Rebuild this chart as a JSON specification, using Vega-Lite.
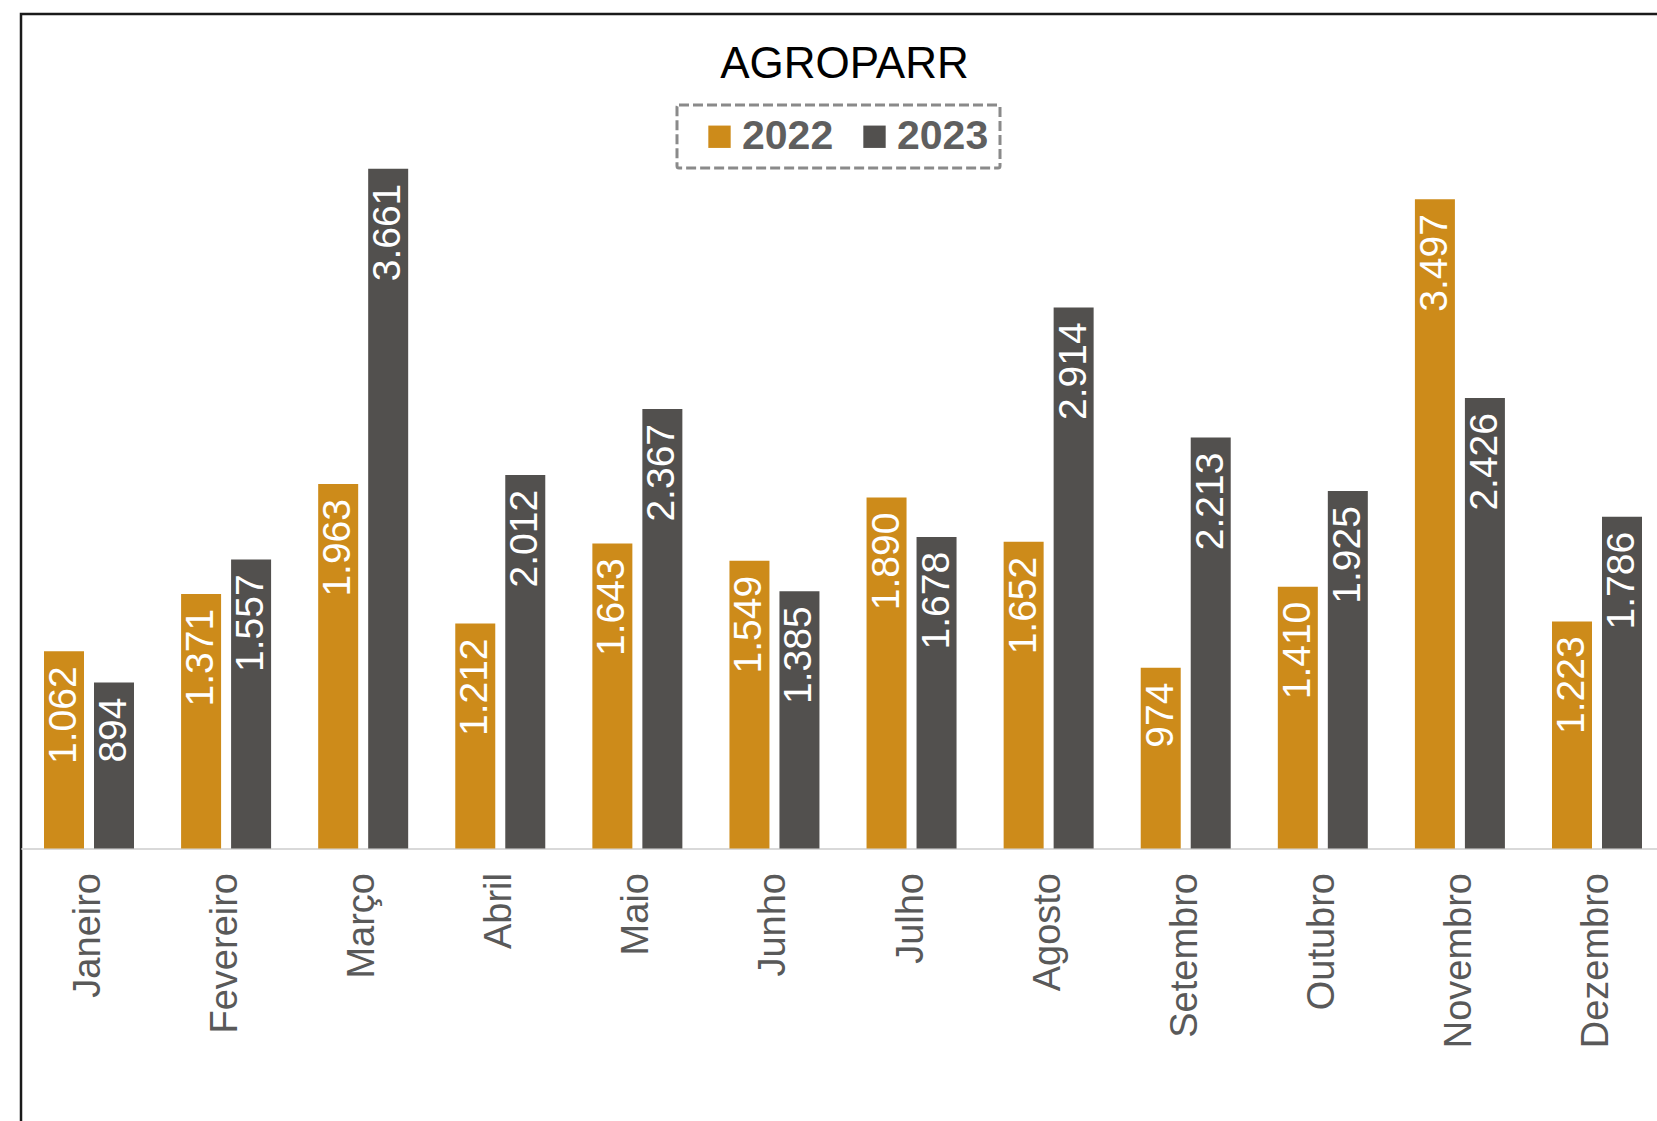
{
  "$schema": "https://vega.github.io/schema/vega-lite/v6.json",
  "width": 1650,
  "height": 1120,
  "autosize": {"type": "none"},
  "padding": {"left": 21, "top": 14, "right": 0, "bottom": 0},
  "background": "white",
  "config": {
    "locale": {"number": {"decimal": ",", "thousands": ".", "grouping": [3], "currency": ["R$", ""]}},
    "view": {"stroke": "#1A1A1A", "strokeWidth": 2.5},
    "font": "Liberation Sans"
  },
  "title": {
    "text": "AGROPARR",
    "fontSize": 44,
    "fontWeight": "normal",
    "font": "Liberation Sans",
    "color": "#000000",
    "anchor": "middle",
    "frame": "group",
    "dx": -1.5,
    "baseline": "alphabetic",
    "offset": -108
  },
  "data": {
    "values": [
      {"mes": "Janeiro", "ano": "2022", "valor": 1062},
      {"mes": "Janeiro", "ano": "2023", "valor": 894},
      {"mes": "Fevereiro", "ano": "2022", "valor": 1371},
      {"mes": "Fevereiro", "ano": "2023", "valor": 1557},
      {"mes": "Março", "ano": "2022", "valor": 1963},
      {"mes": "Março", "ano": "2023", "valor": 3661},
      {"mes": "Abril", "ano": "2022", "valor": 1212},
      {"mes": "Abril", "ano": "2023", "valor": 2012},
      {"mes": "Maio", "ano": "2022", "valor": 1643},
      {"mes": "Maio", "ano": "2023", "valor": 2367},
      {"mes": "Junho", "ano": "2022", "valor": 1549},
      {"mes": "Junho", "ano": "2023", "valor": 1385},
      {"mes": "Julho", "ano": "2022", "valor": 1890},
      {"mes": "Julho", "ano": "2023", "valor": 1678},
      {"mes": "Agosto", "ano": "2022", "valor": 1652},
      {"mes": "Agosto", "ano": "2023", "valor": 2914},
      {"mes": "Setembro", "ano": "2022", "valor": 974},
      {"mes": "Setembro", "ano": "2023", "valor": 2213},
      {"mes": "Outubro", "ano": "2022", "valor": 1410},
      {"mes": "Outubro", "ano": "2023", "valor": 1925},
      {"mes": "Novembro", "ano": "2022", "valor": 3497},
      {"mes": "Novembro", "ano": "2023", "valor": 2426},
      {"mes": "Dezembro", "ano": "2022", "valor": 1223},
      {"mes": "Dezembro", "ano": "2023", "valor": 1786}
    ]
  },
  "encoding": {
    "x": {
      "field": "mes",
      "type": "nominal",
      "sort": null,
      "scale": {"paddingInner": 0.3435, "paddingOuter": 0.18966, "align": 0.4423},
      "axis": {
        "orient": "bottom",
        "offset": -285.5,
        "title": null,
        "labelAngle": -90,
        "labelFontSize": 38,
        "labelFont": "Liberation Sans",
        "labelColor": "#595959",
        "labelPadding": 24,
        "ticks": false,
        "domainColor": "#D9D9D9",
        "domainWidth": 2,
        "grid": false
      }
    },
    "xOffset": {
      "field": "ano",
      "type": "nominal",
      "scale": {"paddingInner": 0.2, "paddingOuter": 0}
    },
    "y": {
      "field": "valor",
      "type": "quantitative",
      "scale": {"domain": [-1537.5, 4494], "nice": false, "zero": false},
      "axis": null
    }
  },
  "layer": [
    {
      "mark": {"type": "bar"},
      "encoding": {
        "color": {
          "field": "ano",
          "type": "nominal",
          "scale": {"domain": ["2022", "2023"], "range": ["#CD8B1A", "#52504E"]},
          "legend": {
            "orient": "none",
            "legendX": 656,
            "legendY": 91,
            "direction": "horizontal",
            "title": null,
            "symbolType": "square",
            "symbolSize": 500,
            "symbolStrokeWidth": 0,
            "symbolOffset": 11,
            "labelFontSize": 41,
            "labelFontWeight": "bold",
            "labelFont": "Liberation Sans",
            "labelColor": "#5F5F5F",
            "labelOffset": 2,
            "columnPadding": 9,
            "padding": 11,
            "strokeColor": "#8A8A8A",
            "cornerRadius": 2,
            "encode": {
              "legend": {
                "update": {
                  "strokeDash": {"value": [10, 4]},
                  "strokeWidth": {"value": 3}
                }
              }
            }
          }
        }
      }
    },
    {
      "mark": {
        "type": "text",
        "angle": 270,
        "align": "right",
        "baseline": "middle",
        "dx": -15,
        "fontSize": 39,
        "font": "Liberation Sans",
        "color": "#FFFFFF"
      },
      "encoding": {
        "text": {"field": "valor", "type": "quantitative", "format": ","}
      }
    }
  ]
}
